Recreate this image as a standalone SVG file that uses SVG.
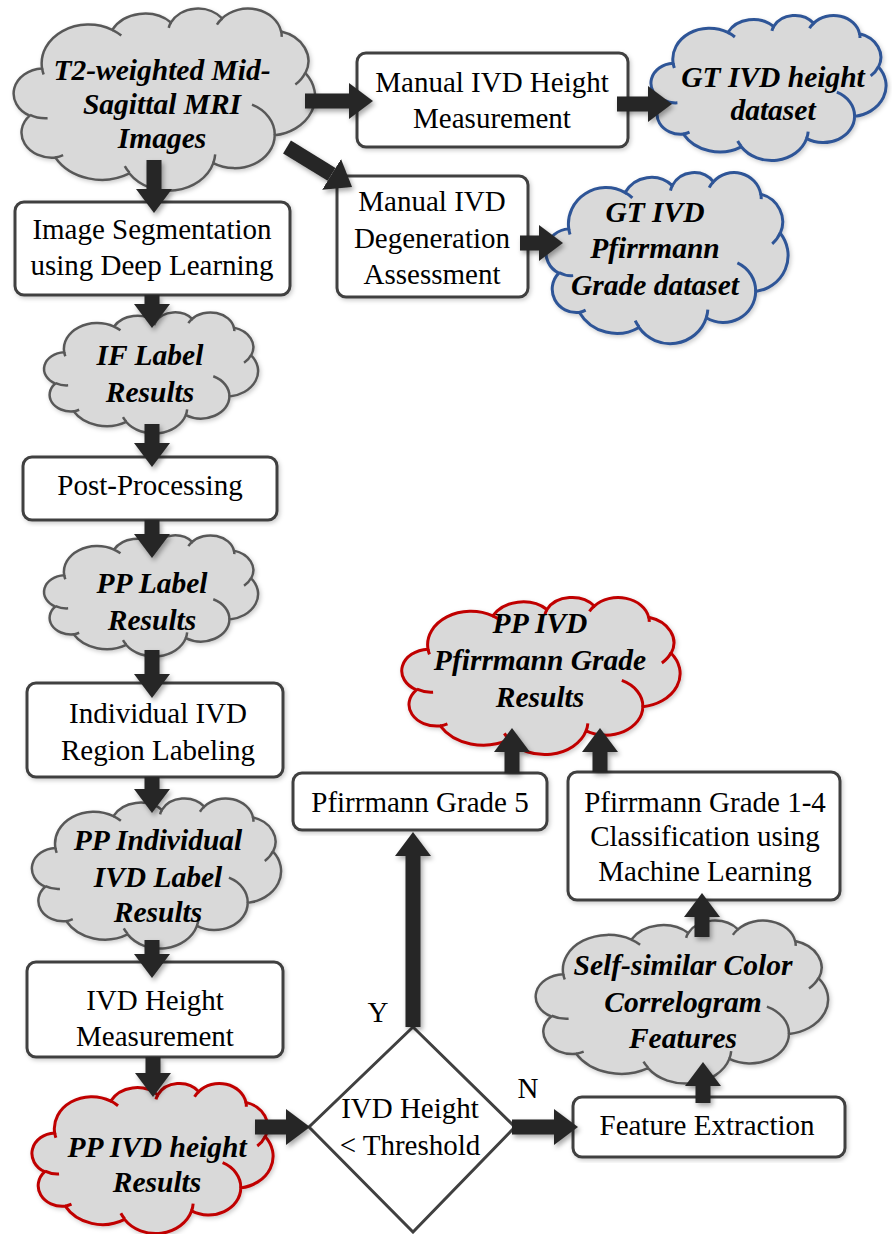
<svg xmlns="http://www.w3.org/2000/svg" xmlns:xlink="http://www.w3.org/1999/xlink" width="892" height="1234" viewBox="0 0 892 1234">
<style>
  .box { fill: #ffffff; stroke: #404040; stroke-width: 3; }
  .cg { fill: #d9d9d9; stroke: #595959; stroke-width: 2.5; }
  .cb { fill: #d9d9d9; stroke: #2f5597; stroke-width: 3; }
  .cr { fill: #d9d9d9; stroke: #c00000; stroke-width: 3; }
  .t { font-family: "Liberation Serif", "Times New Roman", serif; font-size: 29px; fill: #000; text-anchor: middle; }
  .ct { font-family: "Liberation Serif", "Times New Roman", serif; font-size: 29.5px; font-weight: bold; font-style: italic; fill: #000; text-anchor: middle; }
  .arr { stroke: #262626; stroke-width: 15; fill: none; }
</style>
<defs>
  <filter id="sh" x="-20%" y="-20%" width="140%" height="140%">
    <feDropShadow dx="2" dy="3" stdDeviation="2.5" flood-color="#000" flood-opacity="0.35"/>
  </filter>
  <filter id="shs" x="-10%" y="-10%" width="120%" height="120%">
    <feDropShadow dx="1.5" dy="2" stdDeviation="2" flood-color="#000" flood-opacity="0.2"/>
  </filter>
  <marker id="ah" viewBox="0 0 16 24" refX="0" refY="12" markerWidth="1.6" markerHeight="2.4" orient="auto" markerUnits="strokeWidth">
    <path d="M0,0 L16,12 L0,24 Z" fill="#262626"/>
  </marker>
  <g id="cloud">
    <path vector-effect="non-scaling-stroke" d="M9.03,33.26 A15.63,21.27 0 0 1 32.42,12.04 A12.34,16.82 0 0 1 51.98,7.95 A10.1,13.76 0 0 1 69.06,5.75 A11.24,15.27 0 0 1 88.7,12.92 A12.34,16.84 0 0 1 96.8,35.8 A15.68,21.34 0 0 1 86.58,69.92 A13.39,18.21 0 0 1 66.1,85.22 A15.63,21.33 0 0 1 38.15,90.9 A17.87,24.41 0 0 1 13.44,82.12 A10.09,13.7 0 0 1 4.89,59.15 A10.06,13.76 0 0 1 9.03,33.26 Z"/>
    <path vector-effect="non-scaling-stroke" fill="none" d="M10.86,60.6 A10.06,13.76 0 0 1 5,58.75 M16.04,80.78 A10.09,13.7 0 0 1 13.44,82.12 M38.14,90.49 A15.63,21.33 0 0 1 36.6,86.87 M66.73,80.44 A15.63,21.33 0 0 1 66.1,85.22 M79,53.13 A13.39,18.21 0 0 1 86.58,69.92 M96.75,35.54 A12.34,16.84 0 0 1 93.45,41.99 M88.71,12.56 A11.24,15.27 0 0 1 88.88,15.84 M67.31,9.15 A11.24,15.27 0 0 1 69.06,5.75 M51.25,10.93 A10.1,13.76 0 0 1 51.98,7.95 M32.41,12.02 A15.63,21.27 0 0 1 35.43,15.16 M9.55,36.55 A15.63,21.27 0 0 1 9.03,33.26"/>
  </g>
</defs>

<g id="n-t2">
  <g filter="url(#shs)"><use xlink:href="#cloud" class="cg" transform="translate(15,8) scale(3,1.82)"/></g>
  <text class="ct" x="162" y="80">T2-weighted Mid-</text>
  <text class="ct" x="162" y="114">Sagittal MRI</text>
  <text class="ct" x="162" y="148">Images</text>
</g>

<g id="n-manual-height">
  <rect class="box" x="357" y="53" width="271" height="94" rx="9" filter="url(#shs)"/>
  <text class="t" x="492" y="92">Manual IVD Height</text>
  <text class="t" x="492" y="128">Measurement</text>
</g>

<g id="n-gt-height">
  <g filter="url(#shs)"><use xlink:href="#cloud" class="cb" transform="translate(652,15) scale(2.34,1.45)"/></g>
  <text class="ct" x="773" y="87">GT IVD height</text>
  <text class="ct" x="773" y="120">dataset</text>
</g>

<g id="n-manual-degen">
  <rect class="box" x="337" y="176" width="191" height="121" rx="9" filter="url(#shs)"/>
  <text class="t" x="432" y="211">Manual IVD</text>
  <text class="t" x="432" y="248">Degeneration</text>
  <text class="t" x="432" y="284">Assessment</text>
</g>

<g id="n-gt-pfirrmann">
  <g filter="url(#shs)"><use xlink:href="#cloud" class="cb" transform="translate(547,172) scale(2.41,1.71)"/></g>
  <text class="ct" x="655" y="222">GT IVD</text>
  <text class="ct" x="655" y="258">Pfirrmann</text>
  <text class="ct" x="655" y="295">Grade dataset</text>
</g>

<g id="n-segmentation">
  <rect class="box" x="15" y="202" width="275" height="93" rx="9" filter="url(#shs)"/>
  <text class="t" x="152" y="239">Image Segmentation</text>
  <text class="t" x="152" y="275">using Deep Learning</text>
</g>

<g id="n-if-label">
  <g filter="url(#shs)"><use xlink:href="#cloud" class="cg" transform="translate(45,312) scale(2.13,1.21)"/></g>
  <text class="ct" x="150" y="365">IF Label</text>
  <text class="ct" x="150" y="402">Results</text>
</g>

<g id="n-postprocessing">
  <rect class="box" x="23" y="457" width="254" height="63" rx="9" filter="url(#shs)"/>
  <text class="t" x="150" y="495">Post-Processing</text>
</g>

<g id="n-pp-label">
  <g filter="url(#shs)"><use xlink:href="#cloud" class="cg" transform="translate(45,535) scale(2.13,1.21)"/></g>
  <text class="ct" x="152" y="593">PP Label</text>
  <text class="ct" x="152" y="630">Results</text>
</g>

<g id="n-region-labeling">
  <rect class="box" x="27" y="683" width="256" height="94" rx="9" filter="url(#shs)"/>
  <text class="t" x="158" y="723">Individual IVD</text>
  <text class="t" x="158" y="760">Region Labeling</text>
</g>

<g id="n-pp-individual">
  <g filter="url(#shs)"><use xlink:href="#cloud" class="cg" transform="translate(33,798) scale(2.48,1.5)"/></g>
  <text class="ct" x="158" y="850">PP Individual</text>
  <text class="ct" x="158" y="887">IVD Label</text>
  <text class="ct" x="158" y="922">Results</text>
</g>

<g id="n-height-measurement">
  <rect class="box" x="27" y="962" width="256" height="95" rx="9" filter="url(#shs)"/>
  <text class="t" x="155" y="1010">IVD Height</text>
  <text class="t" x="155" y="1046">Measurement</text>
</g>

<g id="n-pp-height">
  <g filter="url(#shs)"><use xlink:href="#cloud" class="cr" transform="translate(33,1083) scale(2.4,1.5)"/></g>
  <text class="ct" x="157" y="1157">PP IVD height</text>
  <text class="ct" x="157" y="1192">Results</text>
</g>

<g id="n-decision">
  <polygon class="box" points="413,1027 515,1127 413,1232 309,1127"/>
  <text class="t" x="410" y="1118">IVD Height</text>
  <text class="t" x="410" y="1155">&lt; Threshold</text>
</g>

<g id="labels">
  <text class="t" x="378" y="1022">Y</text>
  <text class="t" x="528" y="1098">N</text>
</g>

<g id="n-grade5">
  <rect class="box" x="293" y="773" width="254" height="57" rx="9" filter="url(#shs)"/>
  <text class="t" x="420" y="812">Pfirrmann Grade 5</text>
</g>

<g id="n-pp-pfirrmann">
  <g filter="url(#shs)"><use xlink:href="#cloud" class="cr" transform="translate(403,597) scale(2.77,1.57)"/></g>
  <text class="ct" x="540" y="633">PP IVD</text>
  <text class="ct" x="540" y="670">Pfirrmann Grade</text>
  <text class="ct" x="540" y="707">Results</text>
</g>

<g id="n-classification">
  <rect class="box" x="568" y="772" width="272" height="128" rx="9" filter="url(#shs)"/>
  <text class="t" x="705" y="812">Pfirrmann Grade 1-4</text>
  <text class="t" x="705" y="846">Classification using</text>
  <text class="t" x="705" y="881">Machine Learning</text>
</g>

<g id="n-features">
  <g filter="url(#shs)"><use xlink:href="#cloud" class="cg" transform="translate(537,920) scale(2.91,1.63)"/></g>
  <text class="ct" x="683" y="975">Self-similar Color</text>
  <text class="ct" x="683" y="1012">Correlogram</text>
  <text class="ct" x="683" y="1048">Features</text>
</g>

<g id="n-extraction">
  <rect class="box" x="573" y="1097" width="272" height="60" rx="9" filter="url(#shs)"/>
  <text class="t" x="707" y="1135">Feature Extraction</text>
</g>

<g id="connectors" filter="url(#sh)">
  <line class="arr" x1="305" y1="101" x2="349" y2="101" marker-end="url(#ah)"/>
  <line class="arr" x1="617" y1="104" x2="648" y2="104" marker-end="url(#ah)"/>
  <line class="arr" x1="287" y1="147" x2="331.6" y2="174.4" marker-end="url(#ah)"/>
  <line class="arr" x1="520" y1="243" x2="539" y2="243" marker-end="url(#ah)"/>
  <line class="arr" x1="154" y1="160" x2="154" y2="189" marker-end="url(#ah)"/>
  <line class="arr" x1="152" y1="295" x2="152" y2="304" marker-end="url(#ah)"/>
  <line class="arr" x1="152" y1="424" x2="152" y2="443" marker-end="url(#ah)"/>
  <line class="arr" x1="152" y1="520" x2="152" y2="534" marker-end="url(#ah)"/>
  <line class="arr" x1="152" y1="650" x2="152" y2="674" marker-end="url(#ah)"/>
  <line class="arr" x1="152" y1="777" x2="152" y2="789" marker-end="url(#ah)"/>
  <line class="arr" x1="152" y1="940" x2="152" y2="954" marker-end="url(#ah)"/>
  <line class="arr" x1="153" y1="1057" x2="153" y2="1073" marker-end="url(#ah)"/>
  <line class="arr" x1="255" y1="1127" x2="286" y2="1127" marker-end="url(#ah)"/>
  <line class="arr" x1="512" y1="1127" x2="554" y2="1127" marker-end="url(#ah)"/>
  <line class="arr" x1="413" y1="1027" x2="413" y2="856" marker-end="url(#ah)"/>
  <line class="arr" x1="703" y1="1103" x2="703" y2="1086" marker-end="url(#ah)"/>
  <line class="arr" x1="702" y1="937" x2="702" y2="917" marker-end="url(#ah)"/>
  <line class="arr" x1="512" y1="773" x2="512" y2="752" marker-end="url(#ah)"/>
  <line class="arr" x1="600" y1="772" x2="600" y2="752" marker-end="url(#ah)"/>
</g>
</svg>
